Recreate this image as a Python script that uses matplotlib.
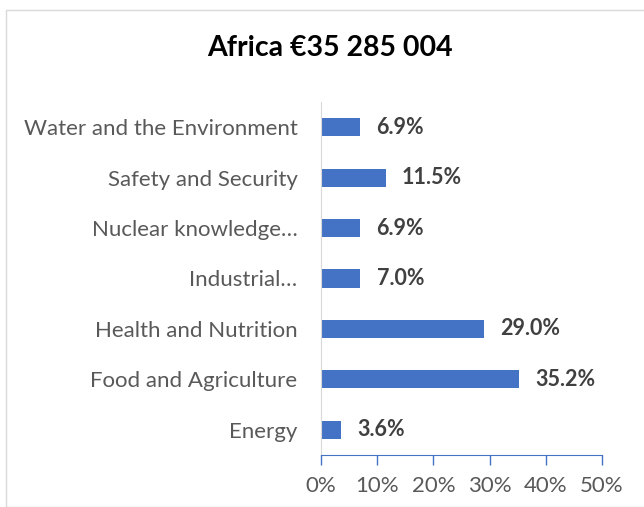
import matplotlib.pyplot as plt
from matplotlib.patches import Rectangle
from matplotlib.ticker import FuncFormatter

# Data (bottom to top as drawn)
categories = ['Energy', 'Food and Agriculture', 'Health and Nutrition',
              'Industrial…', 'Nuclear knowledge…', 'Safety and Security',
              'Water and the Environment']
shares = [3.6, 35.2, 29.0, 7.0, 6.9, 11.5, 6.9]
xticks = [0, 10, 20, 30, 40, 50]

plt.rcParams['font.family'] = ['Lato', 'DejaVu Sans']

W, H = 644, 507
fig = plt.figure(figsize=(W / 100, H / 100), dpi=100)

# chart border
fig.patches.append(Rectangle((6 / W, 0), 1, 1 - 10 / H, transform=fig.transFigure,
                             fill=False, edgecolor='#d9d9d9', linewidth=1))

ax = fig.add_axes([321 / W, 1 - 455 / H, (602 - 321) / W, (455 - 102) / H])
y = range(len(categories))
ax.barh(y, shares, height=0.36, color='#4472C4')

for yi, v in zip(y, shares):
    ax.text(v + 2.9, yi, f'{v:.1f}%', va='center', ha='left',
            fontsize=15.5, fontweight='bold', color='#404040')

ax.set_xlim(0, 50)
ax.set_ylim(-0.5, len(categories) - 0.5)
ax.set_xticks(xticks)
ax.xaxis.set_major_formatter(FuncFormatter(lambda v, p: f'{v:.0f}%'))
ax.set_yticks(list(y))
ax.set_yticklabels(categories)

for s in ['top', 'right']:
    ax.spines[s].set_visible(False)
ax.spines['left'].set_color('#d9d9d9')
ax.spines['bottom'].set_color('#4472C4')
ax.tick_params(axis='x', colors='#4472C4', length=7, width=1, labelcolor='#595959',
               labelsize=16, pad=8)
ax.tick_params(axis='y', length=0, labelcolor='#595959', labelsize=16, pad=17)

fig.text(330 / W, 1 - 48 / H, 'Africa €35 285 004', ha='center', va='center',
         fontsize=20.5, fontweight='bold', color='black')

fig.savefig('out.png', dpi=100)
